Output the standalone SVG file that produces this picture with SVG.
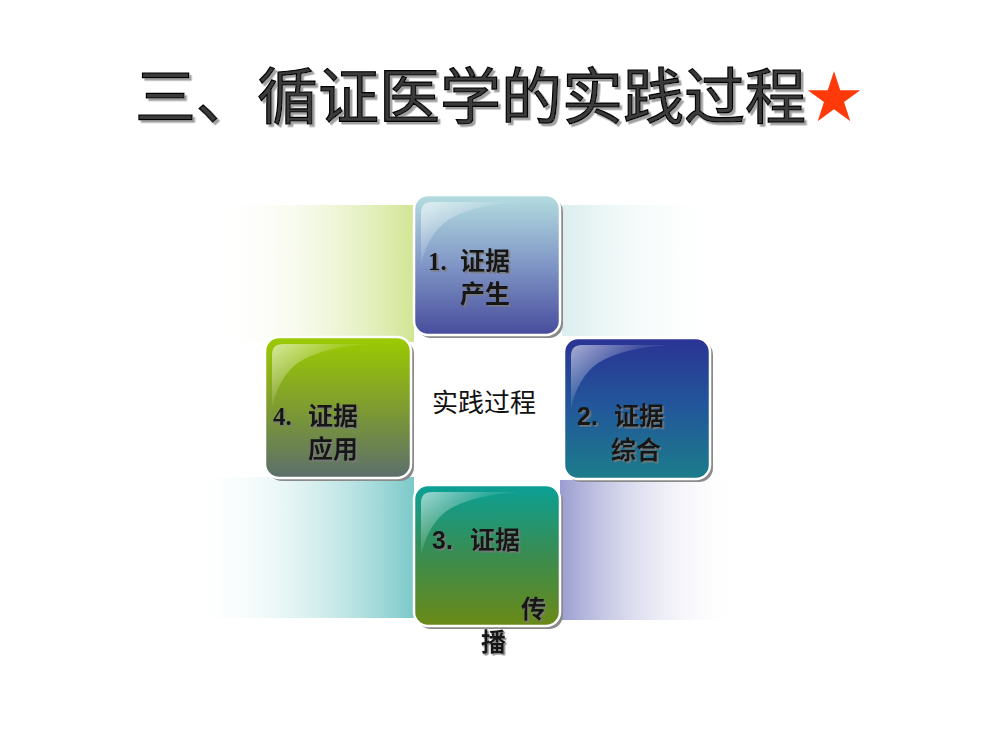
<svg xmlns="http://www.w3.org/2000/svg" width="1000" height="750" viewBox="0 0 1000 750">
<defs>
<style>
.title{font-family:"Noto Sans CJK SC","Liberation Serif",serif;font-size:61px;font-weight:400;fill:#3a3a3a;stroke:#000;stroke-width:1.2px;}
.lbl{font-family:"Noto Sans CJK SC","Liberation Sans",sans-serif;font-size:25px;font-weight:700;fill:#151515;}
.num-serif{font-family:"Liberation Serif","Noto Sans CJK SC",serif;}
.num-sans{font-family:"Liberation Sans","Noto Sans CJK SC",sans-serif;}
.center{font-family:"Noto Sans CJK SC","Liberation Sans",sans-serif;font-size:26px;fill:#111;}
.shadow{fill:#8a8a8a;}
.box{stroke:#ffffff;stroke-width:2.5;}
</style>
<filter id="tsh" x="-5%" y="-10%" width="115%" height="130%">
<feDropShadow dx="2.5" dy="2.5" stdDeviation="0.4" flood-color="#a0a0a0" flood-opacity="1"/>
</filter>
<filter id="lsh" x="-10%" y="-20%" width="130%" height="150%">
<feDropShadow dx="1.6" dy="1.6" stdDeviation="0.3" flood-color="#7a7a7a" flood-opacity="0.9"/>
</filter>
<linearGradient id="gTL" x1="0" y1="0" x2="1" y2="0">
<stop offset="0" stop-color="#ffffff" stop-opacity="0"/>
<stop offset="1" stop-color="#d2e594"/>
</linearGradient>
<linearGradient id="gTR" x1="0" y1="0" x2="1" y2="0">
<stop offset="0" stop-color="#dbeeee"/>
<stop offset="1" stop-color="#ffffff" stop-opacity="0"/>
</linearGradient>
<linearGradient id="gBL" x1="0" y1="0" x2="1" y2="0">
<stop offset="0" stop-color="#ffffff" stop-opacity="0"/>
<stop offset="1" stop-color="#7bc9c9"/>
</linearGradient>
<linearGradient id="gBR" x1="0" y1="0" x2="1" y2="0">
<stop offset="0" stop-color="#9a9dd0"/>
<stop offset="1" stop-color="#ffffff" stop-opacity="0"/>
</linearGradient>
<linearGradient id="g1" x1="0" y1="0" x2="0" y2="1">
<stop offset="0" stop-color="#b4dde0"/>
<stop offset="0.5" stop-color="#8096c6"/>
<stop offset="1" stop-color="#474c9c"/>
</linearGradient>
<linearGradient id="g4" x1="0" y1="0" x2="0" y2="1">
<stop offset="0" stop-color="#9ccb00"/>
<stop offset="0.5" stop-color="#7e9c30"/>
<stop offset="1" stop-color="#5c6e6c"/>
</linearGradient>
<linearGradient id="g2" x1="0" y1="0" x2="0" y2="1">
<stop offset="0" stop-color="#2a3394"/>
<stop offset="0.5" stop-color="#22589a"/>
<stop offset="1" stop-color="#1b7d8a"/>
</linearGradient>
<linearGradient id="g3" x1="0" y1="0" x2="0" y2="1">
<stop offset="0" stop-color="#0aa096"/>
<stop offset="0.5" stop-color="#3a8c50"/>
<stop offset="1" stop-color="#6b8a16"/>
</linearGradient>
<linearGradient id="gHi" x1="0" y1="0" x2="1" y2="0.8">
<stop offset="0" stop-color="#ffffff" stop-opacity="0.6"/>
<stop offset="0.45" stop-color="#ffffff" stop-opacity="0.12"/>
<stop offset="1" stop-color="#ffffff" stop-opacity="0"/>
</linearGradient>
<path id="hi" d="M7,70 L7,18 Q7,7 18,7 L105,7 Q58,10 34,25 Q14,39 7,70 Z" fill="url(#gHi)"/>
</defs>

<rect width="1000" height="750" fill="#ffffff"/>

<g id="title">
<text class="title" x="135" y="119" filter="url(#tsh)">三、循证医学的实践过程</text>
<text x="806" y="117" font-family="Noto Sans CJK SC, DejaVu Sans, sans-serif" font-size="56" fill="#ff3a0a">★</text>
</g>

<g id="background">
<rect x="213" y="205" width="201" height="137" fill="url(#gTL)"/>
<rect x="562" y="205" width="160" height="131" fill="url(#gTR)"/>
<rect x="190" y="477" width="224" height="141" fill="url(#gBL)"/>
<rect x="560" y="480" width="178" height="140" fill="url(#gBR)"/>
</g>

<g id="node1">
<rect x="417" y="198" width="146" height="140" rx="14" class="shadow"/>
<rect x="414" y="195" width="146" height="140" rx="14" fill="url(#g1)" class="box"/>
<use href="#hi" x="414" y="195"/>
<g filter="url(#lsh)">
<text class="lbl" x="428" y="270"><tspan class="num-serif">1.</tspan><tspan x="460">证据</tspan></text>
<text class="lbl" x="460" y="303">产生</text>
</g>
</g>

<g id="node4">
<rect x="268" y="340" width="146" height="141" rx="14" class="shadow"/>
<rect x="265" y="337" width="146" height="141" rx="14" fill="url(#g4)" class="box"/>
<use href="#hi" x="265" y="337"/>
<g filter="url(#lsh)">
<text class="lbl" x="273" y="425"><tspan class="num-serif">4.</tspan><tspan x="308">证据</tspan></text>
<text class="lbl" x="308" y="458">应用</text>
</g>
</g>

<g id="node2">
<rect x="567" y="341" width="146" height="141" rx="14" class="shadow"/>
<rect x="564" y="338" width="146" height="141" rx="14" fill="url(#g2)" class="box"/>
<use href="#hi" x="564" y="338"/>
<g filter="url(#lsh)">
<text class="lbl" x="577" y="425"><tspan class="num-sans">2.</tspan><tspan x="614">证据</tspan></text>
<text class="lbl" x="611" y="459">综合</text>
</g>
</g>

<g id="node3">
<rect x="417" y="488" width="146" height="141" rx="14" class="shadow"/>
<rect x="414" y="485" width="146" height="141" rx="14" fill="url(#g3)" class="box"/>
<use href="#hi" x="414" y="485"/>
<g filter="url(#lsh)">
<text class="lbl" x="432" y="549"><tspan class="num-sans">3.</tspan><tspan x="470">证据</tspan></text>
<text class="lbl" x="521" y="618">传</text>
<text class="lbl" x="481" y="651">播</text>
</g>
</g>

<g id="center">
<text class="center" x="432" y="412">实践过程</text>
</g>

<g id="connectors"></g>
</svg>
